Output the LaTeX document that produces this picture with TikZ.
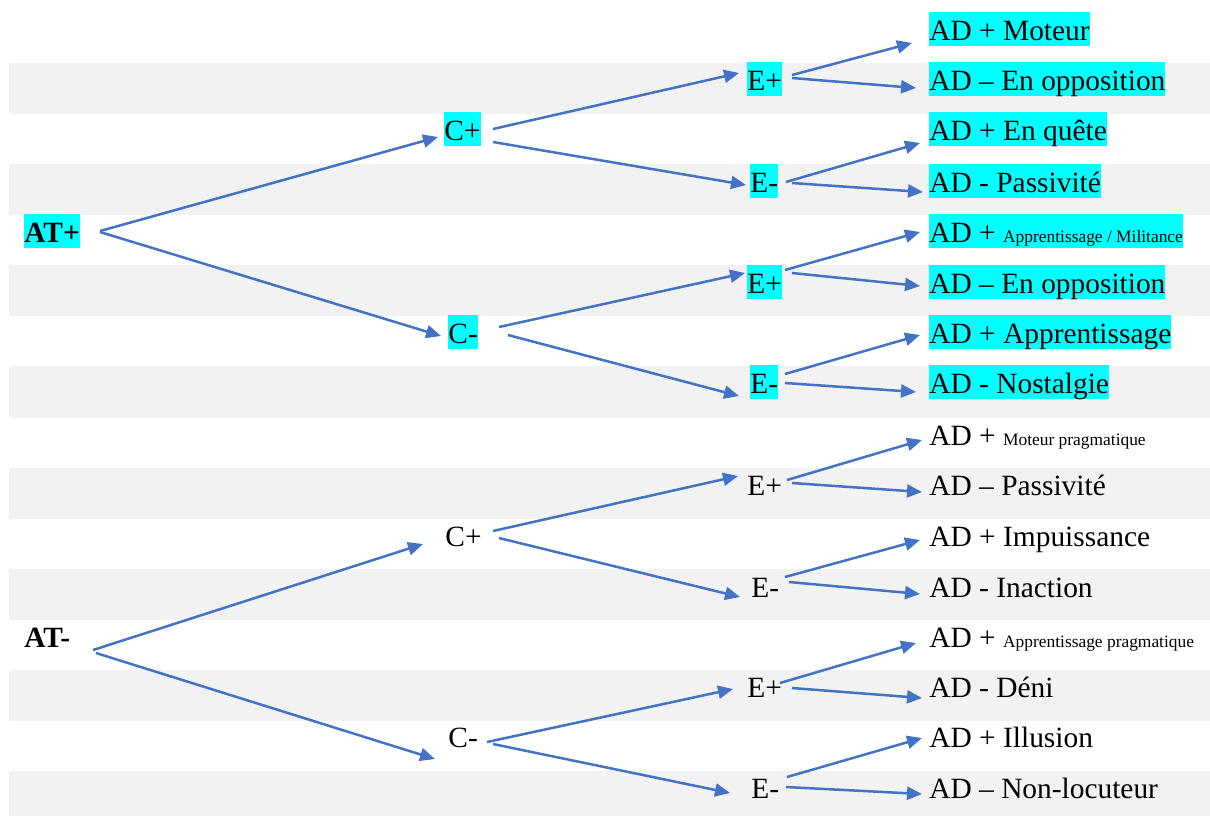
\documentclass[tikz,border=0pt]{standalone}
\usepackage{fontspec}
\setmainfont{Liberation Serif}
\usetikzlibrary{arrows.meta}
\definecolor{bandgray}{HTML}{F2F2F2}
\definecolor{hl}{HTML}{00FFFF}
\definecolor{arrblue}{HTML}{4472C4}
\newcommand{\smalltxt}[1]{{\fontsize{8.7pt}{10pt}\selectfont #1}}
\begin{document}
\begin{tikzpicture}[x=0.5pt,y=-0.5pt,
  lbl/.style={anchor=base west, inner sep=0pt, text height=14pt, text depth=3pt, font=\fontsize{14.7pt}{18pt}\selectfont},
  hlbox/.style={lbl, fill=hl},
  arr/.style={draw=arrblue, line width=1.25pt, -{Triangle[length=7.5pt,width=6.5pt]}},
  band/.style={fill=bandgray, draw=none}]
\useasboundingbox (0,0) rectangle (1210,816);
% background bands
\fill[band] (9,63) rectangle (1210,114);
\fill[band] (9,164) rectangle (1210,215);
\fill[band] (9,265) rectangle (1210,316);
\fill[band] (9,366) rectangle (1210,418);
\fill[band] (9,468) rectangle (1210,519);
\fill[band] (9,569) rectangle (1210,620);
\fill[band] (9,670) rectangle (1210,721);
\fill[band] (9,771) rectangle (1210,816);
% level 1
\node[hlbox, font=\fontsize{14.7pt}{18pt}\selectfont\bfseries] (ATp) at (24,242) {AT+};
\node[lbl, font=\fontsize{14.7pt}{18pt}\selectfont\bfseries] (ATm) at (24,647) {AT-};
% level 2
\node[hlbox] (Cp1) at (444,140) {C+};
\node[hlbox] (Cm1) at (448,343) {C-};
\node[lbl] (Cp2) at (445,546) {C+};
\node[lbl] (Cm2) at (448,747) {C-};
% level 3
\node[hlbox] (E1) at (747,90) {E+};
\node[hlbox] (E2) at (750,192) {E-};
\node[hlbox] (E3) at (747,293) {E+};
\node[hlbox] (E4) at (750,393) {E-};
\node[lbl] (E5) at (747,495) {E+};
\node[lbl] (E6) at (751,597) {E-};
\node[lbl] (E7) at (747,697) {E+};
\node[lbl] (E8) at (751,798) {E-};
% leaves
\node[hlbox] (AD0) at (929,40) {AD + Moteur};
\node[hlbox] (AD1) at (929,90) {AD – En opposition};
\node[hlbox] (AD2) at (929,140) {AD + En quête};
\node[hlbox] (AD3) at (929,192) {AD - Passivité};
\node[hlbox] (AD4) at (929,242) {AD + \smalltxt{Apprentissage / Militance}};
\node[hlbox] (AD5) at (929,293) {AD – En opposition};
\node[hlbox] (AD6) at (929,343) {AD + Apprentissage};
\node[hlbox] (AD7) at (929,393) {AD - Nostalgie};
\node[lbl] (AD8) at (929,445) {AD + \smalltxt{Moteur pragmatique}};
\node[lbl] (AD9) at (929,495) {AD – Passivité};
\node[lbl] (AD10) at (929,546) {AD + Impuissance};
\node[lbl] (AD11) at (929,597) {AD - Inaction};
\node[lbl] (AD12) at (929,647) {AD + \smalltxt{Apprentissage pragmatique}};
\node[lbl] (AD13) at (929,697) {AD - Déni};
\node[lbl] (AD14) at (929,747) {AD + Illusion};
\node[lbl] (AD15) at (929,798) {AD – Non-locuteur};
% arrows, upper tree
\draw[arr] ([shift={(76,-11)}]ATp.base west) -- ([shift={(-6,-3)}]Cp1.base west);
\draw[arr] ([shift={(76,-10)}]ATp.base west) -- ([shift={(-7,-7)}]Cm1.base west);
\draw[arr] ([shift={(49,-11)}]Cp1.base west) -- ([shift={(-8,-17)}]E1.base west);
\draw[arr] ([shift={(49,2)}]Cp1.base west) -- ([shift={(-4,-7)}]E2.base west);
\draw[arr] ([shift={(51,-16)}]Cm1.base west) -- ([shift={(-2,-20)}]E3.base west);
\draw[arr] ([shift={(60,-8)}]Cm1.base west) -- ([shift={(-11,3)}]E4.base west);
\draw[arr] ([shift={(45,-15)}]E1.base west) -- ([shift={(-17,3)}]AD0.base west);
\draw[arr] ([shift={(45,-12)}]E1.base west) -- ([shift={(-13,-2)}]AD1.base west);
\draw[arr] ([shift={(36,-10)}]E2.base west) -- ([shift={(-9,3)}]AD2.base west);
\draw[arr] ([shift={(42,-9)}]E2.base west) -- ([shift={(-6,0)}]AD3.base west);
\draw[arr] ([shift={(38,-23)}]E3.base west) -- ([shift={(-9,-10)}]AD4.base west);
\draw[arr] ([shift={(45,-20)}]E3.base west) -- ([shift={(-9,-7)}]AD5.base west);
\draw[arr] ([shift={(35,-19)}]E4.base west) -- ([shift={(-9,-8)}]AD6.base west);
\draw[arr] ([shift={(35,-10)}]E4.base west) -- ([shift={(-13,-1)}]AD7.base west);
% arrows, lower tree
\draw[arr] ([shift={(69,3)}]ATm.base west) -- ([shift={(-22,-2)}]Cp2.base west);
\draw[arr] ([shift={(72,6)}]ATm.base west) -- ([shift={(-13,12)}]Cm2.base west);
\draw[arr] ([shift={(48,-15)}]Cp2.base west) -- ([shift={(-9,-19)}]E5.base west);
\draw[arr] ([shift={(54,-8)}]Cp2.base west) -- ([shift={(-11,0)}]E6.base west);
\draw[arr] ([shift={(39,-5)}]Cm2.base west) -- ([shift={(-14,-8)}]E7.base west);
\draw[arr] ([shift={(45,-3)}]Cm2.base west) -- ([shift={(-21,-5)}]E8.base west);
\draw[arr] ([shift={(40,-15)}]E5.base west) -- ([shift={(-7,-5)}]AD8.base west);
\draw[arr] ([shift={(45,-12)}]E5.base west) -- ([shift={(-7,-3)}]AD9.base west);
\draw[arr] ([shift={(34,-20)}]E6.base west) -- ([shift={(-9,-6)}]AD10.base west);
\draw[arr] ([shift={(38,-15)}]E6.base west) -- ([shift={(-9,-3)}]AD11.base west);
\draw[arr] ([shift={(33,-14)}]E7.base west) -- ([shift={(-13,-4)}]AD12.base west);
\draw[arr] ([shift={(45,-9)}]E7.base west) -- ([shift={(-7,1)}]AD13.base west);
\draw[arr] ([shift={(36,-21)}]E8.base west) -- ([shift={(-7,-9)}]AD14.base west);
\draw[arr] ([shift={(35,-11)}]E8.base west) -- ([shift={(-7,-4)}]AD15.base west);
\end{tikzpicture}
\end{document}
